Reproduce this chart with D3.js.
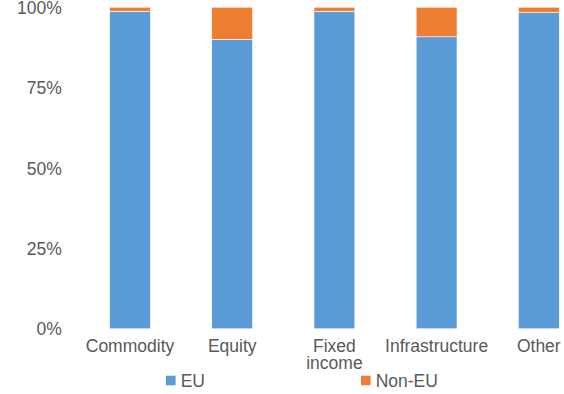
<!DOCTYPE html>
<html>
<head>
<meta charset="utf-8">
<script src="https://cdn.jsdelivr.net/npm/d3@7"></script>
<style>
  html, body { margin: 0; padding: 0; background: #fff; }
  svg { display: block; font-family: "Liberation Sans", Arial, sans-serif; }
</style>
</head>
<body>
<svg id="chart" width="564" height="394"></svg>
<script>
const categories = ["Commodity", "Equity", "Fixed income", "Infrastructure", "Other"];
const euShare = [98.7, 90.0, 98.7, 90.8, 98.3];
const nonEuShare = [1.3, 10.0, 1.3, 9.2, 1.7];
const seriesNames = ["EU", "Non-EU"];
const seriesColors = ["#5B9BD5", "#ED7D31"];
const yTicks = [0, 0.25, 0.5, 0.75, 1];

const rows = categories.map((c, i) => ({ category: c, "EU": euShare[i] / 100, "Non-EU": nonEuShare[i] / 100 }));
const stacked = d3.stack().keys(seriesNames)(rows);

const svg = d3.select("#chart");
const textColor = "#595959";
const fontSize = 17.5;

const x = d3.scaleBand().domain(categories).range([78.9, 589.9]).paddingInner(0.6).paddingOuter(0.3);
const y = d3.scaleLinear().domain([0, 1]).range([328.8, 7.2]);
const color = d3.scaleOrdinal().domain(seriesNames).range(seriesColors);

// Bars
svg.append("g").selectAll("g").data(stacked).join("g")
  .attr("fill", d => color(d.key))
  .selectAll("rect").data(d => d).join("rect")
  .attr("x", d => x(d.data.category))
  .attr("width", x.bandwidth())
  .attr("y", d => y(d[1]))
  .attr("height", d => y(d[0]) - y(d[1]))
  .attr("stroke", "#ffffff")
  .attr("stroke-width", 0.6);

// Y axis
const yAxis = svg.append("g").attr("transform", "translate(61.7,0)")
  .call(d3.axisLeft(y).tickValues(yTicks).tickFormat(d3.format(".0%")).tickSize(0).tickPadding(0));
yAxis.select(".domain").remove();
yAxis.selectAll("text").attr("fill", textColor).attr("font-size", fontSize)
  .attr("font-family", "'Liberation Sans', Arial, sans-serif").attr("dy", "0.35em");

// X axis
const xAxis = svg.append("g").attr("transform", "translate(0,328.8)")
  .call(d3.axisBottom(x).tickSize(0).tickPadding(10.5));
xAxis.select(".domain").remove();
xAxis.selectAll("text")
  .attr("fill", textColor).attr("font-size", fontSize)
  .attr("font-family", "'Liberation Sans', Arial, sans-serif")
  .each(function(d) {
    const t = d3.select(this);
    const words = d.split(" ");
    const yAttr = t.attr("y");
    t.text(null).attr("dy", null);
    words.forEach((w, i) => {
      t.append("tspan").attr("x", 0).attr("y", yAttr)
        .attr("dy", (i === 0 ? 0.71 : 0.71 + i * 1.006) + "em").text(w);
    });
  });

// Legend
const legendX = [166, 361];
const legend = svg.append("g").selectAll("g").data(seriesNames).join("g")
  .attr("transform", (d, i) => `translate(${legendX[i]},375.7)`);
legend.append("rect").attr("width", 9.6).attr("height", 9.6).attr("fill", d => color(d));
legend.append("text").attr("x", 14.7).attr("y", 11.6)
  .attr("fill", textColor).attr("font-size", fontSize).text(d => d);
</script>
</body>
</html>
